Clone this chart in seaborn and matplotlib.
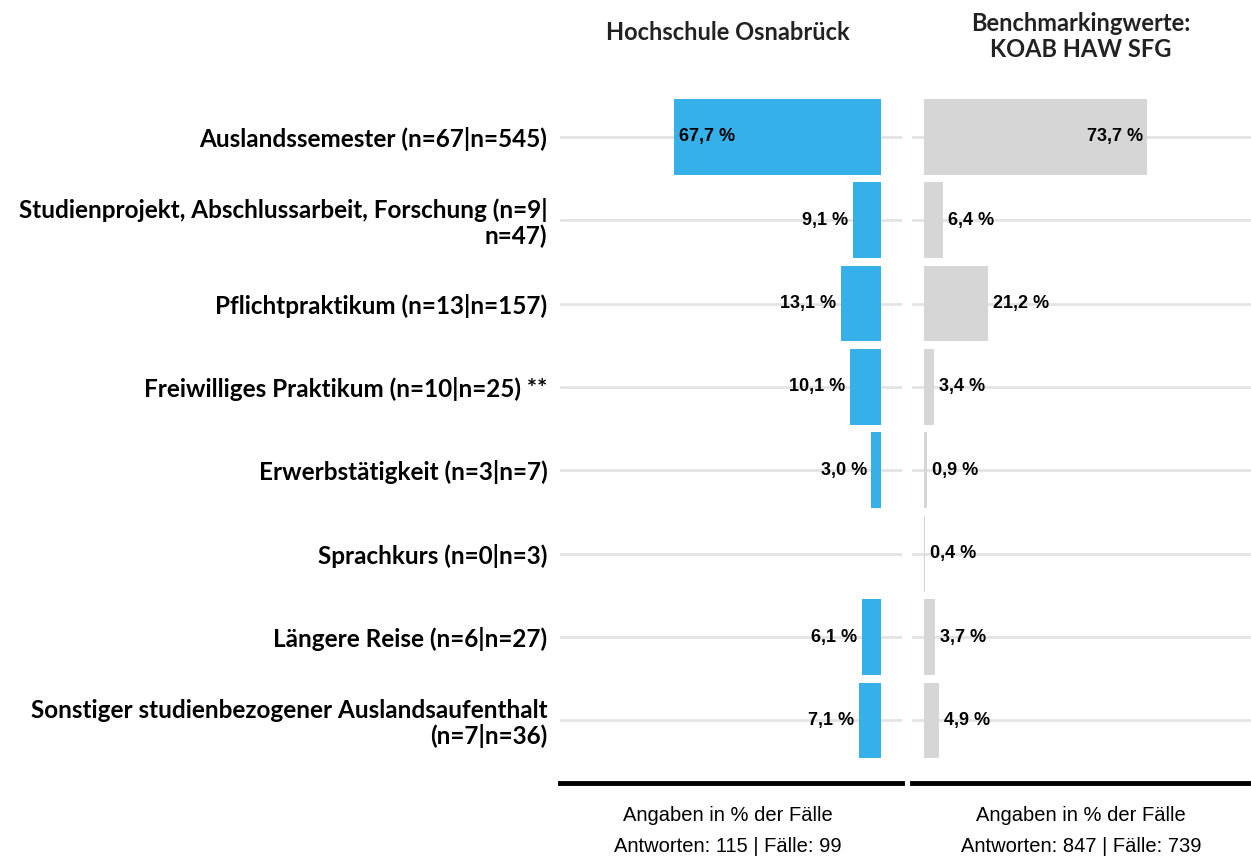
import matplotlib
matplotlib.use("Agg")
import matplotlib.pyplot as plt
import seaborn as sns

# Data
categories = [
    "Auslandssemester (n=67|n=545)",
    "Studienprojekt, Abschlussarbeit, Forschung (n=9|\nn=47)",
    "Pflichtpraktikum (n=13|n=157)",
    "Freiwilliges Praktikum (n=10|n=25) **",
    "Erwerbstätigkeit (n=3|n=7)",
    "Sprachkurs (n=0|n=3)",
    "Längere Reise (n=6|n=27)",
    "Sonstiger studienbezogener Auslandsaufenthalt\n(n=7|n=36)",
]
hs_values = [67.7, 9.1, 13.1, 10.1, 3.0, 0.0, 6.1, 7.1]
bench_values = [73.7, 6.4, 21.2, 3.4, 0.9, 0.4, 3.7, 4.9]

titles = ["Hochschule Osnabrück", "Benchmarkingwerte:\nKOAB HAW SFG"]
footers = ["Angaben in % der Fälle\nAntworten: 115 | Fälle: 99",
           "Angaben in % der Fälle\nAntworten: 847 | Fälle: 739"]

blue = "#35b0e8"
grey = "#d6d6d6"

sns.set_theme(style="white")
plt.rcParams["font.family"] = ["Liberation Sans", "DejaVu Sans"]

fig = plt.figure(figsize=(12.51, 8.60), dpi=100)
ax1 = fig.add_axes([0.4476, 0.0895, 0.2734, 0.80])
ax2 = fig.add_axes([0.7290, 0.0895, 0.2710, 0.80])

sns.barplot(x=hs_values, y=categories, orient="h", color=blue, saturation=1,
            width=0.91, linewidth=0, ax=ax1)
sns.barplot(x=bench_values, y=categories, orient="h", color=grey, saturation=1,
            width=0.91, linewidth=0, ax=ax2)

ax1.set_xlim(105, -7)
ax2.set_xlim(-4, 108)

for ax in (ax1, ax2):
    ax.set_ylim(7.75, -0.5)
    ax.set_xlabel("")
    ax.set_ylabel("")
    ax.set_xticks([])
    ax.grid(axis="y", color="#e3e3e3", linewidth=2)
    ax.grid(axis="x", visible=False)
    ax.set_axisbelow(True)
    for s in ("top", "left", "right"):
        ax.spines[s].set_visible(False)
    ax.spines["bottom"].set_color("black")
    ax.spines["bottom"].set_linewidth(3.5)
    ax.tick_params(axis="y", length=0)

ax2.set_yticklabels([])
ax1.tick_params(axis="y", pad=9)
for lab in ax1.get_yticklabels():
    lab.set_fontfamily("Lato")
    lab.set_fontweight("bold")
    lab.set_fontsize(17.5)
    lab.set_color("black")
    lab.set_horizontalalignment("right")
    lab.set_linespacing(1.1)

# value labels
for i, v in enumerate(hs_values):
    if v <= 0:
        continue
    txt = f"{v:.1f} %".replace(".", ",")
    if v > 40:
        ax1.text(v - 1.8, i, txt, ha="left", va="center", fontsize=13,
                 fontweight="bold", color="black")
    else:
        ax1.text(v + 1.5, i, txt, ha="right", va="center", fontsize=13,
                 fontweight="bold", color="black")

for i, v in enumerate(bench_values):
    txt = f"{v:.1f} %".replace(".", ",")
    if v > 40:
        ax2.text(v - 1.5, i, txt, ha="right", va="center", fontsize=13,
                 fontweight="bold", color="black")
    else:
        ax2.text(v + 1.6, i, txt, ha="left", va="center", fontsize=13,
                 fontweight="bold", color="black")

# panel titles
fig.text(0.5815, 0.962, titles[0], ha="center", va="center", fontsize=17,
         fontweight="bold", family="Lato", color="#222222")
fig.text(0.864, 0.958, titles[1], ha="center", va="center", fontsize=17,
         fontweight="bold", family="Lato", color="#222222", linespacing=1.15)

# footers
fig.text(0.5815, 0.0337, footers[0], ha="center", va="center", fontsize=14.5,
         linespacing=1.8, color="black")
fig.text(0.864, 0.0337, footers[1], ha="center", va="center", fontsize=14.5,
         linespacing=1.8, color="black")

fig.savefig("out.png", dpi=100)
